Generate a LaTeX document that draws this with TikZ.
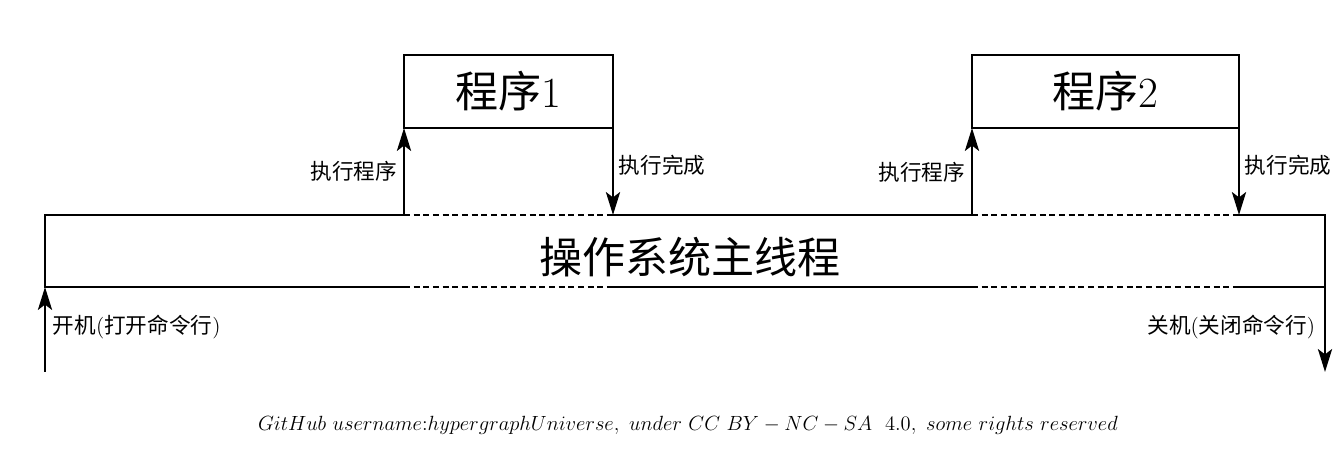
\documentclass[tikz,border=0pt]{standalone}
\usepackage{fontspec}
\usepackage{graphicx}
\newfontfamily\cjk{Noto Sans CJK SC}
\usetikzlibrary{arrows.meta}
\tikzset{
  solidline/.style={line width=1.6pt},
  dashline/.style={line width=0.6pt, dash pattern=on 3.5pt off 2pt},
  arr/.style={line width=1.6pt, -{Stealth[length=13pt, width=8pt, inset=3pt]}},
  progbox/.style={draw, line width=1.6pt, inner sep=0pt, outer sep=0pt, minimum height=1.46cm,
     font=\fontsize{24.5}{28}\selectfont},
  small/.style={inner sep=2pt, font=\fontsize{12.3}{14}\selectfont},
}
\begin{document}
\begin{tikzpicture}[x=0.02cm,y=-0.02cm]
\useasboundingbox (0,0) rectangle (1343,452);
% program boxes
\node[progbox, minimum width=4.18cm] (p1) at (508.5,91.5) {{\cjk 程序}1};
\node[progbox, minimum width=5.34cm] (p2) at (1105.5,91.5) {{\cjk 程序}2};
% band coordinates
\coordinate (tl) at (45,215);
\coordinate (bl) at (45,287);
\coordinate (tr) at (1325,215);
\coordinate (br) at (1325,287);
\coordinate (s) at (45,372);
\coordinate (e) at (1325,372);
\coordinate (a1) at (404,215);  \coordinate (a1b) at (404,287);
\coordinate (b1) at (613,215);  \coordinate (b1b) at (613,287);
\coordinate (a2) at (972,215);  \coordinate (a2b) at (972,287);
\coordinate (b2) at (1239,215); \coordinate (b2b) at (1239,287);
\node[font=\fontsize{24.5}{28}\selectfont\cjk] (os) at (690,257) {操作系统主线程};
% solid parts of the band
\draw[solidline] (a1) -- (tl) -- (bl) -- (a1b);
\draw[solidline] (b1) -- (a2);
\draw[solidline] (b1b) -- (a2b);
\draw[solidline] (b2b) -- (br);
\draw[arr] (b2) -- (tr) -- (e);
% dashed parts
\draw[dashline] (a1) -- (b1);
\draw[dashline] (a1b) -- (b1b);
\draw[dashline] (a2) -- (b2);
\draw[dashline] (a2b) -- (b2b);
% arrows
\draw[arr] (a1) -- (a1 |- p1.south);
\draw[arr] (b1 |- p1.south) -- (b1);
\draw[arr] (a2) -- (a2 |- p2.south);
\draw[arr] (b2 |- p2.south) -- (b2);
\draw[arr] (s) -- (bl);
% labels
\node[small, anchor=east] (l1) at (401,171) {\cjk 执行程序};
\node[small, anchor=west] (l2) at (615,165) {\cjk 执行完成};
\node[small, anchor=east] (l3) at (969,172) {\cjk 执行程序};
\node[small, anchor=west] (l4) at (1241,165) {\cjk 执行完成};
\node[small, anchor=west] (l5) at (49,327) {{\cjk 开机}({\cjk 打开命令行})};
\node[small, anchor=east] (l6) at (1319,327) {{\cjk 关机}({\cjk 关闭命令行})};
% footer
\node[inner sep=0pt] (ft) at (688,425)
  {\resizebox{17.2cm}{!}{\fontsize{11.5}{14}\selectfont$GitHub\ username{:}hypergraphUniverse,\ under\ CC\ BY-NC-SA\ \ 4.0,\ some\ rights\ reserved$}};
\end{tikzpicture}
\end{document}
